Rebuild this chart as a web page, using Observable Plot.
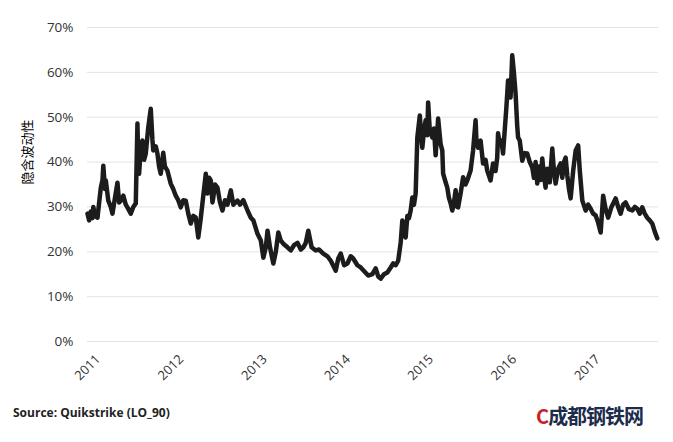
<!DOCTYPE html>
<html>
<head>
<meta charset="utf-8">
<script src="https://cdn.jsdelivr.net/npm/d3@7"></script>
<script src="https://cdn.jsdelivr.net/npm/@observablehq/plot@0.6"></script>
<style>
  html, body { margin: 0; padding: 0; background: #fff; }
  #wrap { position: relative; width: 673px; height: 442px; overflow: hidden; font-family: "Open Sans", "Noto Sans", sans-serif; }
  #chart { position: absolute; left: 0; top: 0; }
  #source { position: absolute; left: 13px; top: 404px; font: bold 12px "Open Sans", "Liberation Sans", sans-serif; color: #222; }
  #mark { position: absolute; left: 536px; top: 401px; font: bold 20px "Noto Sans CJK SC", sans-serif; color: #1d2c4c; letter-spacing: -1px; }
  #mark span { color: #c8202a; }
</style>
</head>
<body>
<div id="wrap">
  <div id="chart"></div>
  <div id="source">Source: Quikstrike (LO_90)</div>
  <div id="mark"><span>C</span>成都钢铁网</div>
</div>
<script>
// decimal-year dates
const years = [
  2011.00, 2011.02, 2011.04, 2011.06, 2011.07, 2011.09, 2011.12, 2011.14, 2011.16, 2011.18,
  2011.19, 2011.21, 2011.22, 2011.25, 2011.28, 2011.30, 2011.33, 2011.36, 2011.38, 2011.40,
  2011.43, 2011.46, 2011.48, 2011.52, 2011.55, 2011.58, 2011.60, 2011.61, 2011.62, 2011.64,
  2011.66, 2011.68, 2011.70, 2011.73, 2011.76, 2011.78, 2011.79, 2011.82, 2011.84, 2011.86,
  2011.88, 2011.91, 2011.93, 2011.96, 2012.00, 2012.03, 2012.06, 2012.09, 2012.12, 2012.15,
  2012.18, 2012.21, 2012.24, 2012.27, 2012.30, 2012.33, 2012.36, 2012.38, 2012.42, 2012.44,
  2012.46, 2012.48, 2012.50, 2012.51, 2012.53, 2012.56, 2012.59, 2012.62, 2012.65, 2012.68,
  2012.72, 2012.75, 2012.80, 2012.83, 2012.87, 2012.92, 2012.96, 2012.99, 2013.04, 2013.08,
  2013.11, 2013.14, 2013.16, 2013.19, 2013.23, 2013.26, 2013.29, 2013.32, 2013.35, 2013.40,
  2013.44, 2013.48, 2013.52, 2013.56, 2013.59, 2013.62, 2013.65, 2013.69, 2013.74, 2013.78,
  2013.83, 2013.88, 2013.92, 2013.98, 2014.01, 2014.04, 2014.08, 2014.12, 2014.16, 2014.19,
  2014.24, 2014.28, 2014.33, 2014.37, 2014.42, 2014.46, 2014.49, 2014.52, 2014.56, 2014.60,
  2014.64, 2014.67, 2014.70, 2014.73, 2014.76, 2014.78, 2014.80, 2014.82, 2014.84, 2014.86,
  2014.88, 2014.90, 2014.92, 2014.94, 2014.96, 2014.99, 2015.01, 2015.02, 2015.04, 2015.06,
  2015.08, 2015.09, 2015.11, 2015.14, 2015.16, 2015.18, 2015.21, 2015.24, 2015.26, 2015.27,
  2015.30, 2015.32, 2015.34, 2015.36, 2015.38, 2015.40, 2015.42, 2015.44, 2015.45, 2015.48,
  2015.51, 2015.54, 2015.56, 2015.58, 2015.60, 2015.63, 2015.66, 2015.67, 2015.69, 2015.72,
  2015.75, 2015.78, 2015.80, 2015.82, 2015.84, 2015.87, 2015.90, 2015.92, 2015.93, 2015.95,
  2015.97, 2015.99, 2016.03, 2016.05, 2016.07, 2016.08, 2016.10, 2016.12, 2016.14, 2016.16,
  2016.17, 2016.19, 2016.22, 2016.25, 2016.28, 2016.31, 2016.34, 2016.36, 2016.38, 2016.40,
  2016.42, 2016.44, 2016.46, 2016.48, 2016.50, 2016.52, 2016.55, 2016.58, 2016.60, 2016.62,
  2016.65, 2016.68, 2016.70, 2016.72, 2016.74, 2016.76, 2016.78, 2016.80, 2016.83, 2016.86,
  2016.89, 2016.91, 2016.94, 2016.98, 2017.01, 2017.04, 2017.07, 2017.10, 2017.13, 2017.16,
  2017.19, 2017.22, 2017.25, 2017.29, 2017.34, 2017.37, 2017.40, 2017.43, 2017.46, 2017.50,
  2017.54, 2017.57, 2017.60, 2017.63, 2017.66, 2017.69, 2017.72, 2017.75, 2017.78, 2017.81,
  2017.84
];
// implied volatility, percent
const vol = [
  28.5, 27.0, 29.0, 27.5, 30.0, 28.0, 27.6, 31.0, 34.3, 36.0,
  39.2, 34.0, 35.9, 31.4, 30.0, 28.5, 32.0, 35.4, 31.0, 31.4,
  32.5, 30.5, 29.9, 28.5, 30.0, 30.8, 48.6, 40.0, 37.4, 43.0,
  44.8, 40.5, 41.9, 47.7, 51.9, 45.0, 42.6, 43.5, 41.9, 39.0,
  37.4, 42.1, 39.0, 38.1, 35.2, 34.0, 32.5, 31.5, 29.9, 31.5,
  31.4, 28.5, 26.3, 28.0, 27.6, 23.2, 27.5, 30.8, 37.4, 33.0,
  36.5, 35.9, 31.0, 32.1, 35.0, 34.3, 31.0, 29.2, 31.5, 30.5,
  33.7, 30.5, 31.4, 30.5, 31.5, 29.2, 27.6, 27.0, 24.0, 22.5,
  18.7, 21.0, 24.7, 21.0, 17.4, 20.0, 24.3, 22.5, 21.8, 21.0,
  20.3, 21.5, 22.0, 20.5, 21.0, 22.0, 24.7, 21.0, 20.3, 20.5,
  19.6, 19.0, 18.0, 15.8, 18.5, 19.6, 17.0, 17.4, 19.0, 18.5,
  17.0, 16.5, 15.5, 14.7, 15.0, 16.3, 14.5, 14.0, 15.0, 15.4,
  16.5, 17.4, 17.0, 18.0, 22.0, 27.0, 24.0, 23.2, 28.0, 27.5,
  29.2, 32.1, 30.5, 33.0, 45.5, 50.4, 45.0, 43.2, 47.0, 49.3,
  46.0, 53.3, 47.0, 45.5, 47.5, 41.5, 49.7, 44.0, 42.6, 37.4,
  35.5, 34.3, 32.0, 30.8, 29.2, 31.0, 33.7, 30.0, 29.9, 33.0,
  36.6, 35.0, 35.9, 37.0, 38.1, 42.6, 49.3, 45.0, 43.2, 44.8,
  39.7, 40.5, 38.1, 37.0, 35.9, 39.7, 38.0, 41.0, 46.4, 44.0,
  44.8, 41.9, 52.2, 58.2, 55.0, 54.4, 63.8, 60.0, 55.3, 48.0,
  45.5, 44.8, 40.3, 42.0, 41.9, 40.0, 38.8, 36.5, 40.0, 35.2,
  39.0, 36.0, 40.8, 37.0, 34.3, 38.5, 35.5, 43.0, 38.0, 35.2,
  38.5, 39.7, 36.5, 40.0, 41.0, 37.0, 34.0, 31.9, 38.0, 42.6,
  43.7, 38.0, 31.4, 29.2, 30.5, 29.6, 28.5, 28.1, 26.5, 24.3,
  32.5, 29.5, 27.6, 30.0, 31.9, 30.0, 28.5, 30.5, 31.0, 29.5,
  29.2, 30.0, 29.6, 28.5, 29.9, 28.5, 27.6, 27.0, 26.3, 24.5,
  23.0
];
const yTicks = [0, 10, 20, 30, 40, 50, 60, 70];
const xTickYears = [2011, 2012, 2013, 2014, 2015, 2016, 2017];
const xEndYear = 2017.855;
const yLabel = "隐含波动性";

function toDate(y) {
  const yr = Math.floor(y);
  const start = Date.UTC(yr, 0, 1), end = Date.UTC(yr + 1, 0, 1);
  return new Date(start + (y - yr) * (end - start));
}
const data = years.map((y, i) => ({date: toDate(y), v: vol[i]}));
const xTicks = xTickYears.map(y => toDate(y));

const chart = Plot.plot({
  width: 673,
  height: 395,
  marginLeft: 87,
  marginRight: 15,
  marginTop: 27,
  marginBottom: 54,
  style: {fontFamily: "'Open Sans', 'Noto Sans', sans-serif", fontSize: "13px", color: "#333", background: "#fff"},
  x: {type: "utc", domain: [toDate(2011), toDate(xEndYear)], axis: null},
  y: {domain: [0, 70], axis: null},
  marks: [
    Plot.gridY(yTicks, {stroke: "#e3e3e3", strokeOpacity: 1, strokeWidth: 1}),
    Plot.axisY(yTicks, {tickSize: 0, tickPadding: 14, tickFormat: d => d + "%", label: null, fontSize: 13.5, fill: "#333"}),
    Plot.text(xTicks, {x: d => d, y: () => 0, dy: 26, text: d => String(d.getUTCFullYear()), rotate: -45, textAnchor: "middle", lineAnchor: "middle", fontSize: 13, fill: "#333"}),
    Plot.text([yLabel], {text: d => d, frameAnchor: "left", dx: -60, rotate: -90, fontSize: 13, fill: "#000", fontFamily: "'Noto Sans CJK SC', sans-serif"}),
    Plot.line(data, {x: "date", y: "v", stroke: "#1c1c1c", strokeWidth: 4.5, strokeLinejoin: "round", curve: "linear"})
  ]
});
document.getElementById("chart").appendChild(chart);
</script>
</body>
</html>
